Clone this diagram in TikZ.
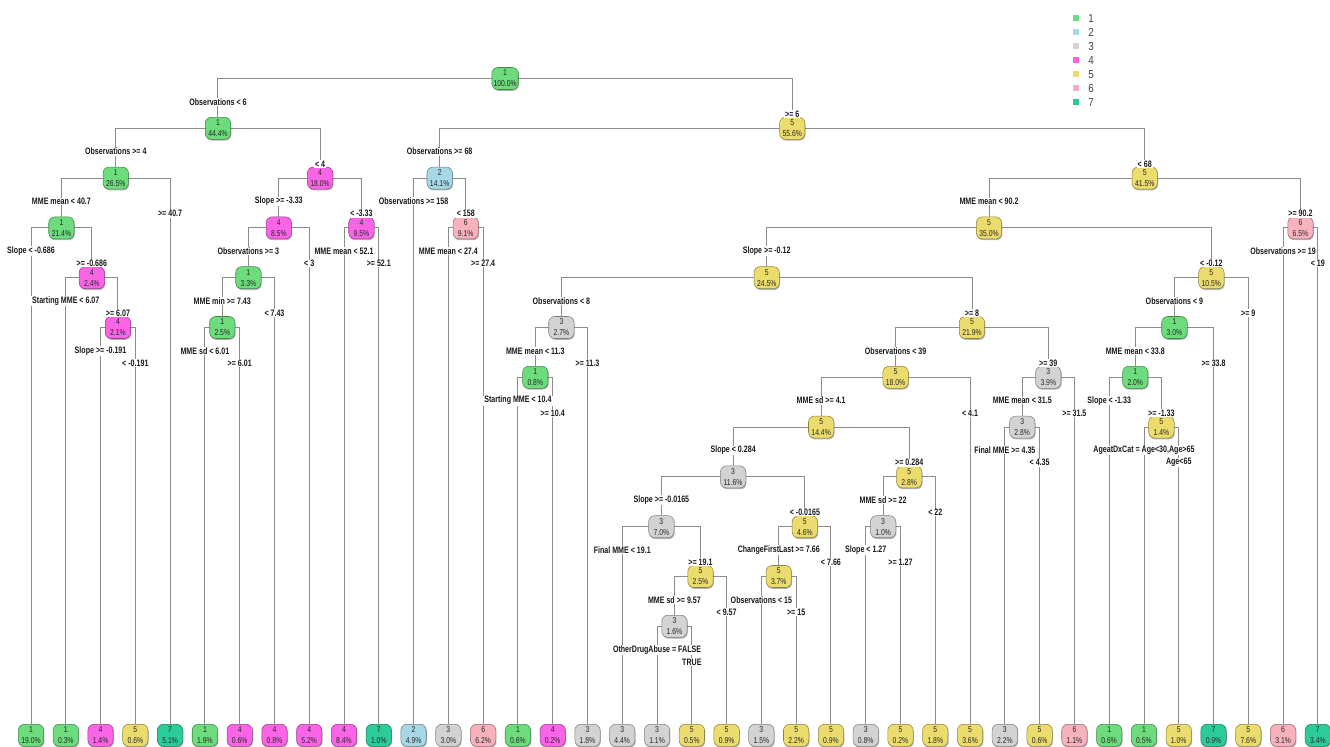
\documentclass[tikz,border=0pt]{standalone}
\usepackage{fontspec}
\usetikzlibrary{calc,backgrounds,shadows}
\newfontfamily\nodef[FakeStretch=0.8]{Liberation Sans}
\newfontfamily\labf[FakeStretch=0.76]{Liberation Sans Bold}
\newfontfamily\legf[FakeStretch=0.85]{Liberation Sans}
\definecolor{c1}{RGB}{108,220,124}
\definecolor{c2}{RGB}{166,216,230}
\definecolor{c3}{RGB}{211,211,211}
\definecolor{c4}{RGB}{250,100,230}
\definecolor{c5}{RGB}{236,220,110}
\definecolor{c6}{RGB}{248,178,190}
\definecolor{c7}{RGB}{44,204,154}
\definecolor{edgegray}{RGB}{140,140,140}
\pgfdeclarelayer{bottom}
\pgfsetlayers{bottom,background,main}
\tikzset{
  tbox/.style={rectangle, rounded corners=4.5pt, minimum width=19pt, minimum height=16.5pt,
    inner xsep=1.2pt, inner ysep=0.5pt, align=center,
    font=\nodef\fontsize{6.4}{8.2}\selectfont, text=black!85,
    fill=#1, draw=#1!60!black, line width=0.4pt,
    drop shadow={shadow xshift=0.5pt, shadow yshift=-1pt, fill=black, opacity=0.3}},
  edge/.style={draw=edgegray, line width=0.7pt},
  slab/.style={fill=white, inner xsep=0.8pt, inner ysep=0.4pt,
    font=\labf\fontsize{7}{8}\selectfont, text=black!90},
  legsq/.style={rectangle, minimum size=4.5pt, inner sep=0pt},
  legtxt/.style={font=\legf\fontsize{8.7}{10}\selectfont, text=black!75, inner sep=0pt}
}
\newcommand{\inode}[5]{\node[tbox=c#4] (#1) at (#2,{78.5+49.8*#3}) {#4\\#5\%};}
\newcommand{\lnode}[4]{\node[tbox=c#3] (#1) at ({31+34.78*#2},735.3) {#3\\#4\%};}
\newcommand{\splL}[3]{%
  \begin{pgfonlayer}{background}\draw[edge] (#1.center) -| (#2.north);\end{pgfonlayer}
  \node[slab] (lab-#2) at ($(#1.center -| #2.center)+(0,23.3)$) {#3};}
\newcommand{\splR}[3]{%
  \begin{pgfonlayer}{background}\draw[edge] (#1.center) -| (#2.north);\end{pgfonlayer}
  \node[slab] (lab-#2) at ($(#1.center -| #2.center)+(0,35.6)$) {#3};}
\begin{document}
\begin{tikzpicture}[x=0.75pt,y=-0.75pt]
\begin{pgfonlayer}{bottom}
\fill[white] (0,0) rectangle (1330,746);
\end{pgfonlayer}
\useasboundingbox (0,0) rectangle (1330,746);
% internal nodes
\inode{nroot}{505.07}{0}{1}{100.0}
\inode{nA}{217.94}{1}{1}{44.4}
\inode{nK}{792.2}{1}{5}{55.6}
\inode{nB}{115.78}{2}{1}{26.5}
\inode{nF}{320.1}{2}{4}{18.0}
\inode{nL}{439.67}{2}{2}{14.1}
\inode{nN}{1144.7}{2}{5}{41.5}
\inode{nC}{61.43}{3}{1}{21.4}
\inode{nG}{278.8}{3}{4}{8.5}
\inode{nJ}{361.41}{3}{4}{9.5}
\inode{nM}{465.75}{3}{6}{9.1}
\inode{nO}{989.0}{3}{5}{35.0}
\inode{nAJ}{1300.47}{3}{6}{6.5}
\inode{nD}{91.87}{4}{4}{2.4}
\inode{nH}{248.37}{4}{1}{3.3}
\inode{nP}{766.68}{4}{5}{24.5}
\inode{nAF}{1211.35}{4}{5}{10.5}
\inode{nE}{117.95}{5}{4}{2.1}
\inode{nI}{222.29}{5}{1}{2.5}
\inode{nQ}{561.4}{5}{3}{2.7}
\inode{nS}{971.96}{5}{5}{21.9}
\inode{nAG}{1174.4}{5}{1}{3.0}
\inode{nR}{535.31}{6}{1}{0.8}
\inode{nT}{895.61}{6}{5}{18.0}
\inode{nAD}{1048.3}{6}{3}{3.9}
\inode{nAH}{1135.27}{6}{1}{2.0}
\inode{nU}{821.16}{7}{5}{14.4}
\inode{nAE}{1022.23}{7}{3}{2.8}
\inode{nAI}{1161.35}{7}{5}{1.4}
\inode{nV}{733.12}{8}{3}{11.6}
\inode{nAB}{909.2}{8}{5}{2.8}
\inode{nW}{661.38}{9}{3}{7.0}
\inode{nZ}{804.86}{9}{5}{4.6}
\inode{nAC}{883.11}{9}{3}{1.0}
\inode{nX}{700.5}{10}{5}{2.5}
\inode{nAA}{778.77}{10}{5}{3.7}
\inode{nY}{674.43}{11}{3}{1.6}
% leaves
\lnode{lf0}{0}{1}{19.0}
\lnode{lf1}{1}{1}{0.3}
\lnode{lf2}{2}{4}{1.4}
\lnode{lf3}{3}{5}{0.6}
\lnode{lf4}{4}{7}{5.1}
\lnode{lf5}{5}{1}{1.9}
\lnode{lf6}{6}{4}{0.6}
\lnode{lf7}{7}{4}{0.8}
\lnode{lf8}{8}{4}{5.2}
\lnode{lf9}{9}{4}{8.4}
\lnode{lf10}{10}{7}{1.0}
\lnode{lf11}{11}{2}{4.9}
\lnode{lf12}{12}{3}{3.0}
\lnode{lf13}{13}{6}{6.2}
\lnode{lf14}{14}{1}{0.6}
\lnode{lf15}{15}{4}{0.2}
\lnode{lf16}{16}{3}{1.8}
\lnode{lf17}{17}{3}{4.4}
\lnode{lf18}{18}{3}{1.1}
\lnode{lf19}{19}{5}{0.5}
\lnode{lf20}{20}{5}{0.9}
\lnode{lf21}{21}{3}{1.5}
\lnode{lf22}{22}{5}{2.2}
\lnode{lf23}{23}{5}{0.9}
\lnode{lf24}{24}{3}{0.8}
\lnode{lf25}{25}{5}{0.2}
\lnode{lf26}{26}{5}{1.8}
\lnode{lf27}{27}{5}{3.6}
\lnode{lf28}{28}{3}{2.2}
\lnode{lf29}{29}{5}{0.6}
\lnode{lf30}{30}{6}{1.1}
\lnode{lf31}{31}{1}{0.6}
\lnode{lf32}{32}{1}{0.5}
\lnode{lf33}{33}{5}{1.0}
\lnode{lf34}{34}{7}{0.9}
\lnode{lf35}{35}{5}{7.6}
\lnode{lf36}{36}{6}{3.1}
\lnode{lf37}{37}{7}{3.4}
% splits
\splL{nroot}{nA}{Observations < 6}
\splR{nroot}{nK}{>= 6}
\splL{nA}{nB}{Observations >= 4}
\splR{nA}{nF}{< 4}
\splL{nB}{nC}{MME mean < 40.7}
\splR{nB}{lf4}{>= 40.7}
\splL{nC}{lf0}{Slope < -0.686}
\splR{nC}{nD}{>= -0.686}
\splL{nD}{lf1}{Starting MME < 6.07}
\splR{nD}{nE}{>= 6.07}
\splL{nE}{lf2}{Slope >= -0.191}
\splR{nE}{lf3}{< -0.191}
\splL{nF}{nG}{Slope >= -3.33}
\splR{nF}{nJ}{< -3.33}
\splL{nG}{nH}{Observations >= 3}
\splR{nG}{lf8}{< 3}
\splL{nH}{nI}{MME min >= 7.43}
\splR{nH}{lf7}{< 7.43}
\splL{nI}{lf5}{MME sd < 6.01}
\splR{nI}{lf6}{>= 6.01}
\splL{nJ}{lf9}{MME mean < 52.1}
\splR{nJ}{lf10}{>= 52.1}
\splL{nK}{nL}{Observations >= 68}
\splR{nK}{nN}{< 68}
\splL{nL}{lf11}{Observations >= 158}
\splR{nL}{nM}{< 158}
\splL{nM}{lf12}{MME mean < 27.4}
\splR{nM}{lf13}{>= 27.4}
\splL{nN}{nO}{MME mean < 90.2}
\splR{nN}{nAJ}{>= 90.2}
\splL{nO}{nP}{Slope >= -0.12}
\splR{nO}{nAF}{< -0.12}
\splL{nP}{nQ}{Observations < 8}
\splR{nP}{nS}{>= 8}
\splL{nQ}{nR}{MME mean < 11.3}
\splR{nQ}{lf16}{>= 11.3}
\splL{nR}{lf14}{Starting MME < 10.4}
\splR{nR}{lf15}{>= 10.4}
\splL{nS}{nT}{Observations < 39}
\splR{nS}{nAD}{>= 39}
\splL{nT}{nU}{MME sd >= 4.1}
\splR{nT}{lf27}{< 4.1}
\splL{nU}{nV}{Slope < 0.284}
\splR{nU}{nAB}{>= 0.284}
\splL{nV}{nW}{Slope >= -0.0165}
\splR{nV}{nZ}{< -0.0165}
\splL{nW}{lf17}{Final MME < 19.1}
\splR{nW}{nX}{>= 19.1}
\splL{nX}{nY}{MME sd >= 9.57}
\splR{nX}{lf20}{< 9.57}
\splL{nY}{lf18}{OtherDrugAbuse = FALSE}
\splR{nY}{lf19}{TRUE}
\splL{nZ}{nAA}{ChangeFirstLast >= 7.66}
\splR{nZ}{lf23}{< 7.66}
\splL{nAA}{lf21}{Observations < 15}
\splR{nAA}{lf22}{>= 15}
\splL{nAB}{nAC}{MME sd >= 22}
\splR{nAB}{lf26}{< 22}
\splL{nAC}{lf24}{Slope < 1.27}
\splR{nAC}{lf25}{>= 1.27}
\splL{nAD}{nAE}{MME mean < 31.5}
\splR{nAD}{lf30}{>= 31.5}
\splL{nAE}{lf28}{Final MME >= 4.35}
\splR{nAE}{lf29}{< 4.35}
\splL{nAF}{nAG}{Observations < 9}
\splR{nAF}{lf35}{>= 9}
\splL{nAG}{nAH}{MME mean < 33.8}
\splR{nAG}{lf34}{>= 33.8}
\splL{nAH}{lf31}{Slope < -1.33}
\splR{nAH}{nAI}{>= -1.33}
\splL{nAI}{lf32}{AgeatDxCat = Age<30,Age>65}
\splR{nAI}{lf33}{Age<65}
\splL{nAJ}{lf36}{Observations >= 19}
\splR{nAJ}{lf37}{< 19}
% legend
\foreach \k in {1,...,7} {
  \node[legsq, fill=c\k] (lgsq\k) at (1075.7,{18.3+14*(\k-1)}) {};
  \node[legtxt] (lgtx\k) at (1091,{18.3+14*(\k-1)}) {\k};
}
\end{tikzpicture}
\end{document}
